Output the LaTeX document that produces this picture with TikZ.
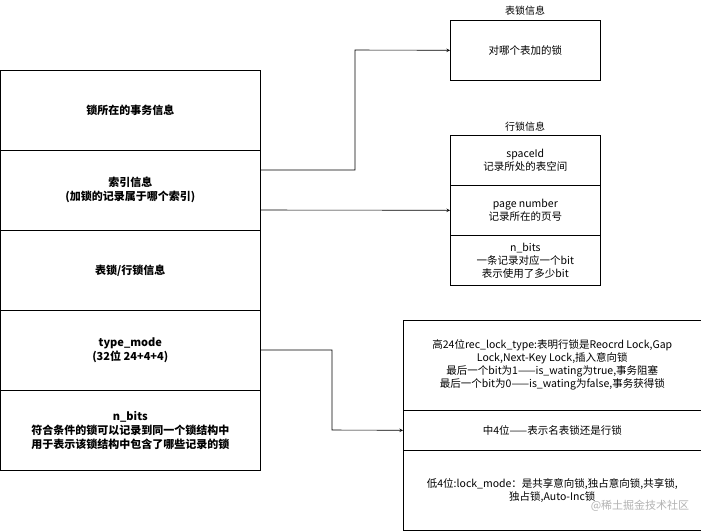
\documentclass[tikz,border=0pt]{standalone}
\usepackage{fontspec}
\setmainfont{Noto Sans CJK SC}
\begin{document}
\begin{tikzpicture}[x=1pt,y=-1pt,font=\fontsize{10.5}{13}\selectfont,
  box/.style={draw,semithick,minimum width=#1,inner sep=0pt,align=center,anchor=north west},
  lbl/.style={font=\fontsize{10}{12}\selectfont},
  arr/.style={->,>=stealth,semithick}]
\useasboundingbox (0,0) rectangle (701,531);
\begin{scope}[every node/.append style={font=\fontsize{11}{14}\selectfont\bfseries}]
\node[box=260,minimum height=80] (a1) at (0,70) {锁所在的事务信息};
\node[box=260,minimum height=80] (a2) at (0,150) {索引信息\\(加锁的记录属于哪个索引)};
\node[box=260,minimum height=80] (a3) at (0,230) {表锁/行锁信息};
\node[box=260,minimum height=80] (a4) at (0,310) {type\_mode\\(32位 24+4+4)};
\node[box=260,minimum height=80] (a5) at (0,390) {n\_bits\\符合条件的锁可以记录到同一个锁结构中\\用于表示该锁结构中包含了哪些记录的锁};
\end{scope}
\node[box=150,minimum height=60] (t) at (450,20) {对哪个表加的锁};
\node[lbl] (tl) at (525,11) {表锁信息};
\node[box=150,minimum height=50] (r1) at (450,135) {spaceId\\记录所处的表空间};
\node[box=150,minimum height=50] (r2) at (450,185) {page number\\记录所在的页号};
\node[box=150,minimum height=50] (r3) at (450,235) {n\_bits\\一条记录对应一个bit\\表示使用了多少bit};
\node[lbl] (rl) at (525,127) {行锁信息};
\node[box=298,minimum height=90] (b1) at (403,320) {高24位rec\_lock\_type:表明行锁是Reocrd Lock,Gap\\Lock,Next-Key Lock,插入意向锁\\最后一个bit为1——is\_wating为true,事务阻塞\\最后一个bit为0——is\_wating为false,事务获得锁};
\node[box=298,minimum height=40] (b2) at (403,410) {中4位——表示名表锁还是行锁};
\node[box=298,minimum height=80] (b3) at (403,450) {低4位:lock\_mode：是共享意向锁,独占意向锁,共享锁,\\独占锁,Auto-Inc锁};
\node[text=gray!60,font=\fontsize{11}{13}\selectfont] (wm) at (640,506) {@稀土掘金技术社区};
\draw[arr] (260,170) -| (355,50) -- (t.west);
\draw[arr] (260,210) -- (r2.west);
\draw[arr] (260,350) -| (332,430) -- (b2.west);
\end{tikzpicture}
\end{document}
